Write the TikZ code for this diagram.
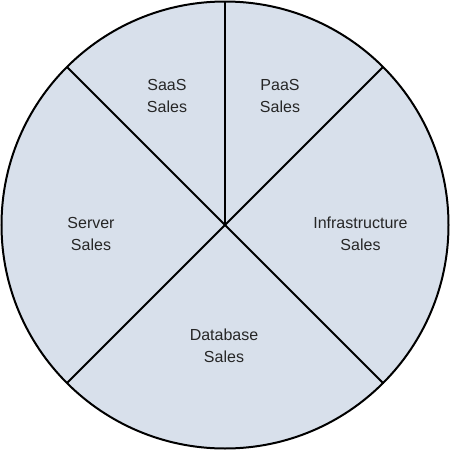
\documentclass[tikz,border=0pt]{standalone}
\usepackage{fontspec}
\setmainfont{Liberation Sans}
\definecolor{piefill}{HTML}{D8E0EB}
\begin{document}
\begin{tikzpicture}[x=1pt,y=-1pt,
  seg/.style={line width=2pt,black},
  lbl/.style={align=center,font=\fontsize{16}{21.5}\selectfont,inner sep=0pt,text=black!85}]
\useasboundingbox (0,0) rectangle (450,450);
\coordinate (c) at (225,225);
\draw[seg,fill=piefill] (c) circle[radius=223.5];
\path (c) ++(0,-223.5) coordinate (top);
\path (c) ++(158,-158) coordinate (ur);
\path (c) ++(158,158) coordinate (lr);
\path (c) ++(-158,158) coordinate (ll);
\path (c) ++(-158,-158) coordinate (ul);
\draw[seg] (c) -- (top);
\draw[seg] (c) -- (ur);
\draw[seg] (c) -- (lr);
\draw[seg] (c) -- (ll);
\draw[seg] (c) -- (ul);
\node[lbl] (saas) at (167,96) {SaaS\\Sales};
\node[lbl] (paas) at (280,96) {PaaS\\Sales};
\node[lbl] (infra) at (360.5,234) {Infrastructure\\Sales};
\node[lbl] (server) at (91,234) {Server\\Sales};
\node[lbl] (db) at (224,346) {Database\\Sales};
\end{tikzpicture}
\end{document}
